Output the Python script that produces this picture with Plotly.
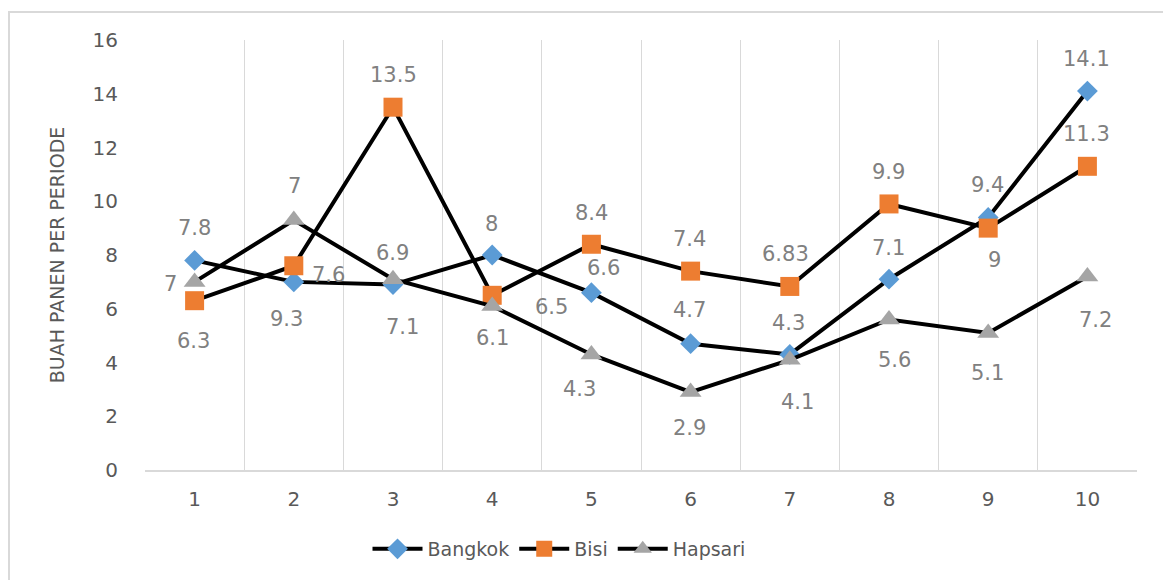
import plotly.graph_objects as go

categories = ["1", "2", "3", "4", "5", "6", "7", "8", "9", "10"]
bangkok = [7.8, 7, 6.9, 8, 6.6, 4.7, 4.3, 7.1, 9.4, 14.1]
bisi = [6.3, 7.6, 13.5, 6.5, 8.4, 7.4, 6.83, 9.9, 9, 11.3]
hapsari = [7, 9.3, 7.1, 6.1, 4.3, 2.9, 4.1, 5.6, 5.1, 7.2]
y_ticks = [0, 2, 4, 6, 8, 10, 12, 14, 16]

# label pixel offsets (dx, dy down-positive) relative to each point
off_bangkok = [(0, -32), (1, -96), (-1, -32), (-1, -31), (12, -25), (-1, -34), (-1, -31), (-1, -31), (-1, -32), (-1, -32)]
off_bisi = [(-1, 40), (35, 9), (0, -32), (59, 12), (0, -31), (-1, -32), (-4, -32), (-1, -32), (6, 32), (-1, -32)]
off_hapsari = [(-24, 2), (-7, 99), (9, 48), (0, 32), (-12, 35), (-1, 36), (8, 42), (5, 40), (-1, 40), (8, 43)]

FONT = "DejaVu Sans"
TXT = "#595959"
LBL = "#808080"

series = [
    ("Bangkok", bangkok, off_bangkok, dict(symbol="diamond", size=16, color="#5B9BD5")),
    ("Bisi", bisi, off_bisi, dict(symbol="square", size=19, color="#ED7D31")),
    ("Hapsari", hapsari, off_hapsari, dict(symbol="triangle-up", size=19, color="#A5A5A5")),
]

fig = go.Figure()
annotations = []
for name, vals, offs, mk in series:
    fig.add_trace(go.Scatter(
        x=categories, y=vals, name=name, mode="lines+markers",
        line=dict(color="black", width=4),
        marker=dict(symbol=mk["symbol"], size=mk["size"], color=mk["color"], line=dict(width=0)),
        cliponaxis=False,
    ))
    for i, (v, (dx, dy)) in enumerate(zip(vals, offs)):
        annotations.append(dict(
            x=i, y=v, xref="x", yref="y", text=f"{v:g}", showarrow=False,
            xshift=dx, yshift=-dy, font=dict(family=FONT, size=21, color=LBL),
        ))

fig.update_layout(
    width=1163, height=572,
    margin=dict(l=137, r=34, t=32, b=110),
    paper_bgcolor="white", plot_bgcolor="white",
    font=dict(family=FONT, color=TXT, size=19),
    showlegend=True,
    legend=dict(
        orientation="h", xref="container", yref="container",
        x=551 / 1163, y=1 - 541 / 572, xanchor="center", yanchor="middle",
        font=dict(family=FONT, size=19, color=TXT), itemwidth=50,
        bgcolor="rgba(0,0,0,0)",
    ),
    annotations=annotations,
    shapes=[dict(
        type="rect", xref="paper", yref="paper",
        x0=-136 / 992, x1=1.2, y0=-0.5, y1=1 + 28 / 430,
        line=dict(color="#D9D9D9", width=2), fillcolor="rgba(0,0,0,0)", layer="below",
    )],
)

fig.update_xaxes(
    type="category", categoryorder="array", categoryarray=categories,
    range=[-0.5, 9.5],
    showgrid=True, gridcolor="#D9D9D9", gridwidth=1, tickson="boundaries",
    ticks="", showline=True, linecolor="#D9D9D9", linewidth=1.5,
    tickfont=dict(family=FONT, size=20, color=TXT), ticklabelstandoff=10,
    zeroline=False,
)
fig.update_yaxes(
    range=[0, 16], tickvals=y_ticks, showgrid=False, zeroline=False, showline=False,
    ticks="", tickfont=dict(family=FONT, size=20, color=TXT), ticklabelstandoff=26,
    title=dict(text="BUAH PANEN PER PERIODE", font=dict(family=FONT, size=19, color=TXT), standoff=22),
)

fig.write_html("out.html")
